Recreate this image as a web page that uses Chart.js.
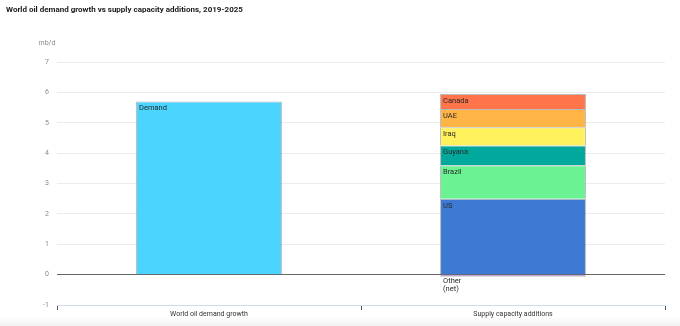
<!DOCTYPE html>
<html>
<head>
<meta charset="utf-8">
<script src="https://cdn.jsdelivr.net/npm/chart.js@4/dist/chart.umd.min.js"></script>
<style>
  html, body { margin: 0; padding: 0; }
  body { width: 680px; height: 326px; background: linear-gradient(to bottom, #fff 0, #fff 316px, #f2f2f2 326px); }
  #wrap { position: relative; width: 680px; height: 326px; }
  canvas { display: block; }
</style>
</head>
<body>
<div id="wrap"><canvas id="c" width="680" height="326"></canvas></div>
<script>
const categories = ['World oil demand growth', 'Supply capacity additions'];
const yTicks = [-1, 0, 1, 2, 3, 4, 5, 6, 7];

// mb/d
const demand = [5.7, null];
const supplyUS = [null, 2.5];
const supplyBrazil = [null, 1.1];
const supplyGuyana = [null, 0.65];
const supplyIraq = [null, 0.6];
const supplyUAE = [null, 0.6];
const supplyCanada = [null, 0.5];
const supplyOther = [null, -0.07];

const FONT = 'Roboto, "Liberation Sans", sans-serif';

const series = [
    { label: 'Demand', data: demand, color: '#4AD4FE' },
    { label: 'US', data: supplyUS, color: '#3D7AD3' },
    { label: 'Brazil', data: supplyBrazil, color: '#6BF292' },
    { label: 'Guyana', data: supplyGuyana, color: '#00A99C' },
    { label: 'Iraq', data: supplyIraq, color: '#FFF25C' },
    { label: 'UAE', data: supplyUAE, color: '#FFB446' },
    { label: 'Canada', data: supplyCanada, color: '#FF744A' },
    { label: 'Other (net)', data: supplyOther, color: '#9B5FC0' },
];

const barLabels = {
    id: 'barLabels',
    afterDatasetsDraw(chart) {
        const ctx = chart.ctx;
        ctx.save();
        ctx.font = '7.5px ' + FONT;
        ctx.fillStyle = '#2a2a2a';
        ctx.textAlign = 'left';
        ctx.textBaseline = 'middle';
        chart.data.datasets.forEach((ds, i) => {
            const meta = chart.getDatasetMeta(i);
            meta.data.forEach((el, j) => {
                const v = ds.data[j];
                if (v === null || v === undefined) return;
                const left = el.x - el.width / 2;
                if (v >= 0) {
                    ctx.fillText(ds.label, left + 3, Math.min(el.y, el.base) + 7);
                } else {
                    const bottom = Math.max(el.y, el.base);
                    ctx.fillText('Other', left + 3, bottom + 4);
                    ctx.fillText('(net)', left + 3, bottom + 12);
                }
            });
        });
        ctx.restore();
    },
};

const headings = {
    id: 'headings',
    afterDraw(chart) {
        const ctx = chart.ctx;
        ctx.save();
        ctx.fillStyle = '#1a1a1a';
        ctx.font = 'bold 8px ' + FONT;
        ctx.textAlign = 'left';
        ctx.textBaseline = 'middle';
        ctx.fillText('World oil demand growth vs supply capacity additions, 2019-2025', 6, 9.5);
        ctx.fillStyle = '#8a8a8a';
        ctx.font = '7px ' + FONT;
        ctx.textAlign = 'center';
        ctx.fillText('mb/d', 47, 43);
        ctx.restore();
    },
};

new Chart(document.getElementById('c'), {
    type: 'bar',
    data: {
        labels: categories,
        datasets: series.map((s) => ({
            label: s.label,
            data: s.data,
            backgroundColor: s.color,
            borderColor: 'rgba(60, 60, 60, 0.35)',
            borderWidth: 1,
            categoryPercentage: 0.6,
            barPercentage: 0.8,
        })),
    },
    options: {
        responsive: false,
        animation: false,
        devicePixelRatio: 1,
        layout: { padding: { top: 62, right: 15, left: 0, bottom: 0 } },
        plugins: {
            legend: { display: false },
            title: { display: false },
            tooltip: { enabled: false },
        },
        scales: {
            x: {
                stacked: true,
                afterFit: (s) => { s.height = 21; },
                border: { display: true, color: '#cfdcef', width: 1 },
                grid: {
                    display: true,
                    offset: true,
                    drawOnChartArea: false,
                    drawTicks: true,
                    tickLength: 5,
                    tickColor: '#555',
                },
                ticks: {
                    padding: 0,
                    color: '#333',
                    font: { family: FONT, size: 7 },
                    maxRotation: 0,
                },
            },
            y: {
                stacked: true,
                min: yTicks[0],
                max: yTicks[yTicks.length - 1],
                afterFit: (s) => { s.width = 57; },
                afterBuildTicks: (s) => { s.ticks = yTicks.map((v) => ({ value: v })); },
                border: { display: false },
                grid: {
                    drawTicks: false,
                    color: (c) => (c.tick.value === 0 ? '#666' : c.tick.value === -1 ? 'rgba(0,0,0,0)' : '#ececec'),
                },
                ticks: {
                    padding: 8,
                    color: '#8a8a8a',
                    font: { family: FONT, size: 7 },
                },
            },
        },
    },
    plugins: [barLabels, headings],
});
</script>
</body>
</html>
